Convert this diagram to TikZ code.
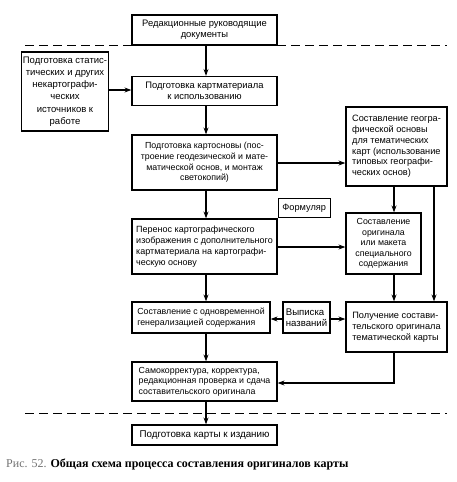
\documentclass[tikz,border=0pt]{standalone}
\usepackage{fontspec}
\setmainfont{Liberation Serif}
\newfontfamily\boxfont{Liberation Sans}
\usetikzlibrary{arrows.meta}
\begin{document}
\begin{tikzpicture}[x=1pt,y=-1pt,
  bx/.style={draw,line width=1.2pt,inner sep=1pt,font=\boxfont\fontsize{9.2}{10.8}\selectfont},
  cbox/.style={bx,align=center},
  lbox/.style={bx,align=left},
  fsm/.style={font=\boxfont\fontsize{8.8}{10.6}\selectfont},
  arr/.style={line width=1.5pt,-{Stealth[length=7pt,width=5pt]}},
  dline/.style={line width=1pt,dash pattern=on 9pt off 5pt}]
\useasboundingbox (0,0) rectangle (457,482);
\fill[white] (0,0) rectangle (457,482);
% nodes
\node[cbox,minimum width=145pt,minimum height=30pt,font=\boxfont\fontsize{9.4}{11}\selectfont] (b1) at (204.5,30) {Редакционные руководящие\\документы};
\node[cbox,minimum width=86pt,minimum height=79pt,font=\boxfont\fontsize{9.5}{12.2}\selectfont] (b2) at (65,91.5) {Подготовка статис-\\тических и других\\некартографи-\\ческих\\источников к\\работе};
\node[cbox,minimum width=145pt,minimum height=29pt,font=\boxfont\fontsize{9.4}{11}\selectfont] (b3) at (204.5,91) {Подготовка картматериала\\к использованию};
\node[cbox,fsm,minimum width=145pt,minimum height=55pt] (b4) at (204.5,162.5) {Подготовка картосновы (пос-\\троение геодезической и мате-\\матической основ, и монтаж\\светокопий)};
\node[lbox,minimum width=101pt,minimum height=79pt] (b5) at (396.5,146.5) {Составление геогра-\\фической основы\\для тематических\\карт (использование\\типовых географи-\\ческих основ)};
\node[lbox,minimum width=145pt,minimum height=55pt,font=\boxfont\fontsize{9}{10.8}\selectfont] (b7) at (204.5,246.5) {Перенос картографического\\изображения с дополнительного\\картматериала на картографи-\\ческую основу};
\node[cbox,minimum width=52pt,minimum height=19pt,anchor=south west] (b6) at (b7.north east) {Формуляр};
\node[cbox,fsm,minimum width=75pt,minimum height=61pt] (b8) at (383.5,243.5) {Составление\\оригинала\\или макета\\специального\\содержания};
\node[lbox,fsm,minimum width=138pt,minimum height=31pt] (b9) at (201,317.5) {Составление с одновременной\\генерализацией содержания};
\node[lbox,minimum width=47pt,minimum height=31pt,font=\boxfont\fontsize{9.6}{11}\selectfont] (b10) at (306.5,317.5) {Выписка\\названий};
\node[lbox,minimum width=101pt,minimum height=50pt] (b11) at (396.5,327) {Получение состави-\\тельского оригинала\\тематической карты};
\node[lbox,fsm,minimum width=145pt,minimum height=39pt] (b12) at (204.5,381.5) {Самокорректура, корректура,\\редакционная проверка и сдача\\составительского оригинала};
\node[cbox,minimum width=145pt,minimum height=20pt,font=\boxfont\fontsize{9.8}{11}\selectfont] (b13) at (204.5,435) {Подготовка карты к изданию};
% dashed lines
\coordinate (d1a) at (25,45); \coordinate (d1b) at (447,45);
\coordinate (d2a) at (25,413); \coordinate (d2b) at (447,413);
\draw[dline] (d1a) -- (d1b);
\draw[dline] (d2a) -- (d2b);
% arrows
\draw[arr] (b1.south -| 206,0) -- (b3.north -| 206,0);
\draw[arr] (b2.east |- 0,90) -- (b3.west |- 0,90);
\draw[arr] (b3.south -| 206,0) -- (b4.north -| 206,0);
\draw[arr] (b4.east |- 0,163) -- (b5.west |- 0,163);
\draw[arr] (b4.south -| 206,0) -- (b7.north -| 206,0);
\draw[arr] (b7.east |- 0,247) -- (b8.west |- 0,247);
\draw[arr] (b5.south -| 394,0) -- (b8.north -| 394,0);
\draw[arr] (b5.south -| 434,0) -- (b11.north -| 434,0);
\draw[arr] (b8.south -| 394,0) -- (b11.north -| 394,0);
\draw[arr] (b7.south -| 206,0) -- (b9.north -| 206,0);
\draw[arr] (b10.west |- 0,319) -- (b9.east |- 0,319);
\draw[arr] (b10.east |- 0,319) -- (b11.west |- 0,319);
\draw[arr] (b9.south -| 206,0) -- (b12.north -| 206,0);
\draw[arr] (b11.south -| 394,0) |- (b12.east |- 0,383);
\draw[arr] (b12.south -| 206,0) -- (b13.north -| 206,0);
% caption
\node[anchor=west,font=\fontsize{12}{14}\selectfont,inner sep=0pt] (cap) at (6,464) {{\color{black!55}Рис. 52.} \textbf{Общая схема процесса составления оригиналов карты}};
\end{tikzpicture}
\end{document}
